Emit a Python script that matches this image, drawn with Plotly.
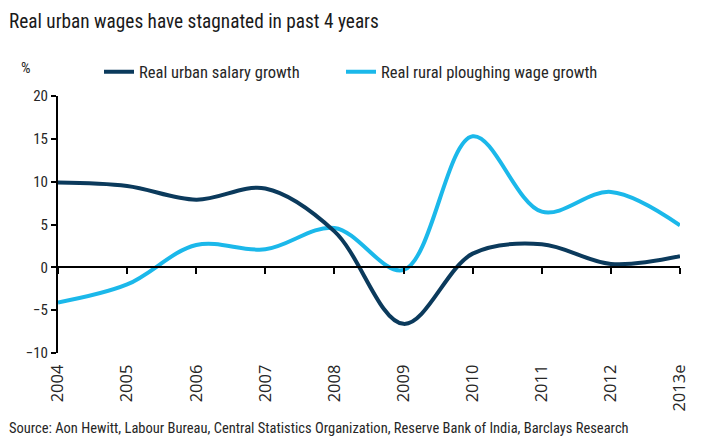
import plotly.graph_objects as go

years = ["2004", "2005", "2006", "2007", "2008", "2009", "2010", "2011", "2012", "2013e"]
urban_salary_growth = [9.9, 9.5, 7.9, 9.2, 4.2, -6.6, 1.6, 2.7, 0.4, 1.3]
rural_plough_wage_growth = [-4.1, -2.0, 2.6, 2.1, 4.6, -0.3, 15.3, 6.5, 8.8, 4.9]

NARROW = "Roboto Condensed, Liberation Sans Narrow, Arial Narrow, sans-serif"
DARK = "#0b3a5c"
LIGHT = "#1bb8ea"
TXT = "#262626"

# the page places the figure 8px in from the window's corner
OFF = 8
W, H = 720, 444
ML, MT = 58 - OFF, 96 - OFF
MR, MB = W - (680 - OFF), H - (353 - OFF)
PW, PH = W - ML - MR, H - MT - MB


def px(x):
    return (x - OFF - ML) / PW


def py(y):
    return (H - MB - (y - OFF)) / PH


fig = go.Figure()
fig.add_trace(go.Scatter(
    x=years, y=rural_plough_wage_growth, mode="lines",
    name="Real rural ploughing wage growth",
    line=dict(color=LIGHT, width=4, shape="spline", smoothing=1.0),
    legend="legend", xaxis="x", yaxis="y", showlegend=True,
))
fig.add_trace(go.Scatter(
    x=years, y=urban_salary_growth, mode="lines",
    name="Real urban salary growth",
    line=dict(color=DARK, width=4, shape="spline", smoothing=1.0),
    legend="legend2", xaxis="x2", yaxis="y", showlegend=True,
))

fig.update_layout(
    width=W, height=H, showlegend=True,
    margin=dict(l=ML, r=MR, t=MT, b=MB, autoexpand=False),
    paper_bgcolor="white", plot_bgcolor="white",
    font=dict(family=NARROW, size=14, color=TXT),
    xaxis=dict(
        type="category", range=[0, 9], showgrid=False, zeroline=False,
        showline=False, ticks="outside", ticklen=4, tickcolor="rgba(0,0,0,0)",
        tickangle=-90, tickfont=dict(family="Open Sans", size=16.5, color=TXT),
    ),
    xaxis2=dict(
        type="category", range=[0, 9], overlaying="x", anchor="free", position=1/3,
        showgrid=False, zeroline=False, showline=True, linecolor="black", linewidth=2,
        ticks="outside", ticklen=6, tickwidth=1.5, tickcolor="black",
        showticklabels=False,
    ),
    yaxis=dict(
        range=[-10, 20], dtick=5, showgrid=False, zeroline=False,
        showline=True, linecolor="black", linewidth=2,
        ticks="outside", ticklen=5, tickwidth=2, tickcolor="black",
        tickfont=dict(family=NARROW, size=15, color=TXT),
    ),
    legend=dict(
        orientation="h", xref="paper", yref="paper",
        x=px(341), y=py(72), xanchor="left", yanchor="middle",
        font=dict(family=NARROW, size=16.5, color=TXT), bgcolor="rgba(0,0,0,0)",
    ),
    legend2=dict(
        orientation="h", xref="paper", yref="paper",
        x=px(99), y=py(72), xanchor="left", yanchor="middle",
        font=dict(family=NARROW, size=16.5, color=TXT), bgcolor="rgba(0,0,0,0)",
    ),
    annotations=[
        dict(text="FIGURE 5", xref="paper", yref="paper", x=px(8), y=py(OFF),
             xanchor="left", yanchor="middle", yshift=5, showarrow=False,
             font=dict(family=NARROW, size=11, color="#666666")),
        dict(text="Real urban wages have stagnated in past 4 years", xref="paper", yref="paper",
             x=px(7), y=py(22), xanchor="left", yanchor="middle", showarrow=False,
             font=dict(family=NARROW, size=19.3, color="#1a1a1a")),
        dict(text="%", xref="paper", yref="paper", x=px(19), y=py(68),
             xanchor="left", yanchor="middle", showarrow=False,
             font=dict(family=NARROW, size=15, color=TXT)),
        dict(text="Source: Aon Hewitt, Labour Bureau, Central Statistics Organization, Reserve Bank of India, Barclays Research",
             xref="paper", yref="paper", x=px(7), y=py(428),
             xanchor="left", yanchor="middle", showarrow=False,
             font=dict(family=NARROW, size=14.5, color=TXT)),
    ],
)

fig.write_html("out.html")
